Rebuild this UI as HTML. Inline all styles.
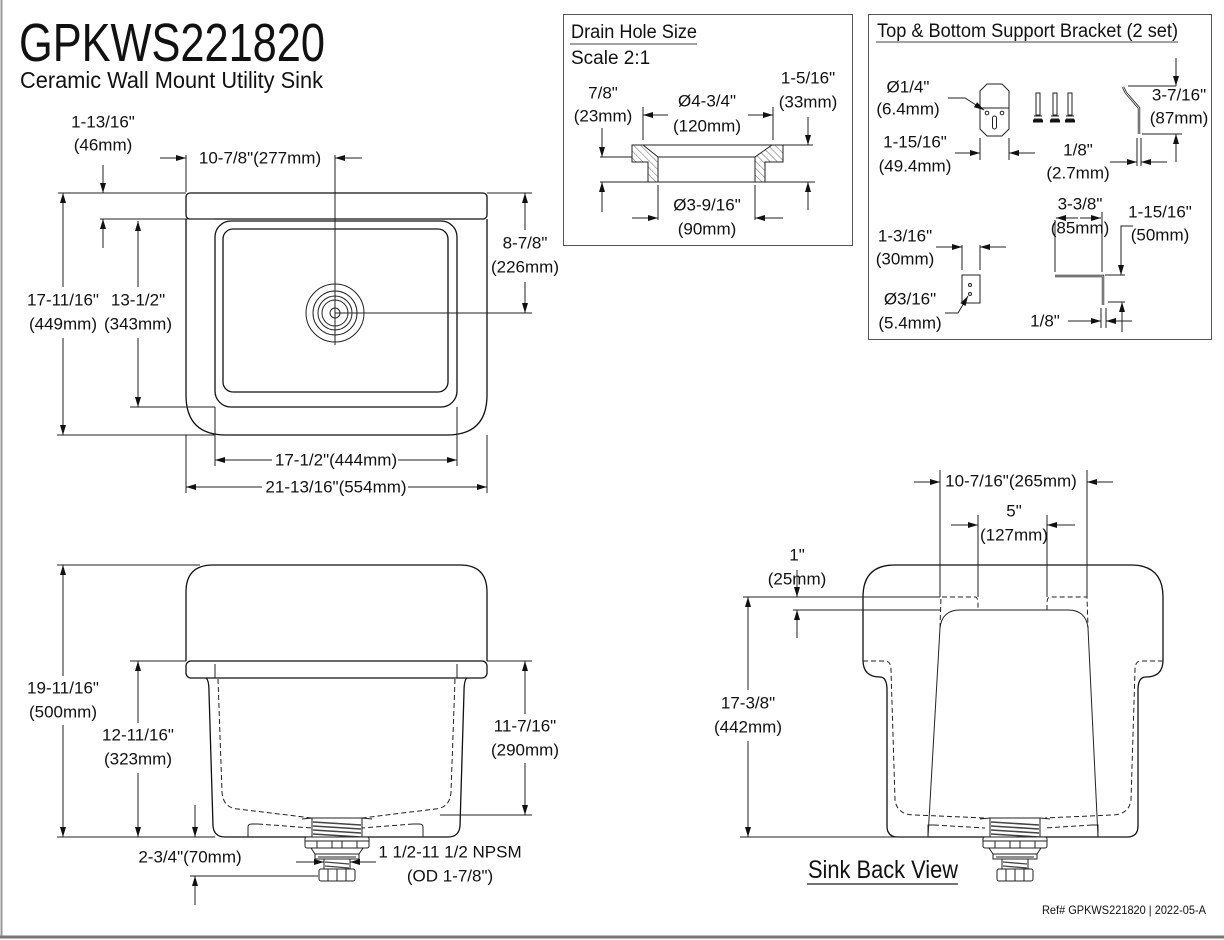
<!DOCTYPE html>
<html><head><meta charset="utf-8"><style>
html,body{margin:0;padding:0;background:#fff;}
svg{display:block;}
text{font-family:"Liberation Sans Narrow","Liberation Sans",sans-serif;fill:#111;}
.d{font-size:17px;text-anchor:middle;dominant-baseline:central;}
.l{stroke:#222;stroke-width:1;fill:none;}
.t{stroke:#111;stroke-width:1.3;fill:none;}
.ds{stroke:#222;stroke-width:1;fill:none;stroke-dasharray:5,3;}
</style></head><body>
<svg width="1224" height="940" viewBox="0 0 1224 940" xmlns="http://www.w3.org/2000/svg">
<defs>
<marker id="a" viewBox="0 0 10 6" refX="10" refY="3" markerWidth="10" markerHeight="6" markerUnits="userSpaceOnUse" orient="auto"><path d="M0,0 L10,3 L0,6 z" fill="#111"/></marker>
<pattern id="h" width="5" height="5" patternUnits="userSpaceOnUse" patternTransform="rotate(-45)"><line x1="0" y1="0" x2="0" y2="5" stroke="#333" stroke-width="0.8"/></pattern>
<g id="drain">
 <path class="l" d="M-35,-18 L-25,-19 L25,-19 L35,-18"/>
 <rect x="-25" y="-19" width="50" height="19" fill="#fff" stroke="#222"/>
 <path d="M-24,-15 L24,-12 M-24,-11 L24,-8 M-24,-7 L24,-4 M-24,-3 L24,0" stroke="#444" stroke-width="1.6"/>
 <rect x="-32" y="0" width="64" height="11" rx="2" fill="#fff" stroke="#222"/>
 <path class="l" d="M-32,4 L32,4 M-20,4 L-20,11 M20,4 L20,11 M-5,4 L-5,11 M5,4 L5,11"/>
 <path class="l" d="M-26,11 L-22,17 L22,17 L26,11 M-22,17 L-22,22 L22,22 L22,17 M-19,20 L19,20"/>
 <rect x="-13" y="22" width="26" height="10" fill="#fff" stroke="#222"/>
 <path d="M-12,25 L12,27 M-12,29 L12,31" stroke="#444" stroke-width="1.3"/>
 <rect x="-18" y="32" width="36" height="12" rx="2" fill="#fff" stroke="#222"/>
 <path class="l" d="M-9,32 L-9,44 M0,32 L0,44 M9,32 L9,44"/>
</g>
</defs>
<line x1="1.5" y1="0" x2="1.5" y2="937" stroke="#999" stroke-width="2"/>
<line x1="0" y1="937" x2="1224" y2="937" stroke="#777" stroke-width="3"/>

<text x="19" y="61" style="font-size:54px" textLength="306" lengthAdjust="spacingAndGlyphs">GPKWS221820</text>
<text x="20" y="88" style="font-size:23px" textLength="303" lengthAdjust="spacingAndGlyphs">Ceramic Wall Mount Utility Sink</text>

<!-- TOP VIEW -->
<rect class="t" x="186" y="193" width="301" height="26" rx="4"/>
<path class="t" d="M186,219 L186,395 Q186,435 226,435 L447,435 Q487,435 487,395 L487,219"/>
<rect class="t" x="215" y="221" width="242" height="186" rx="16"/>
<rect class="t" x="223" y="229" width="225" height="163" rx="10"/>
<circle class="l" cx="335" cy="313" r="29"/>
<circle class="l" cx="335" cy="313" r="22"/>
<circle class="l" cx="335" cy="313" r="17"/>
<circle class="l" cx="335" cy="313" r="13"/>
<circle class="l" cx="335" cy="313" r="5"/>
<path class="l" d="M335,155 L335,345 M335,313 L532,313"/>
<path class="l" d="M186,155 L186,192"/>
<path class="l" d="M160,158 L186,158" marker-end="url(#a)"/>
<path class="l" d="M362,158 L335,158" marker-end="url(#a)"/>
<text class="d" x="260" y="158">10-7/8"(277mm)</text>
<text class="d" x="103" y="122">1-13/16"</text>
<text class="d" x="103" y="145">(46mm)</text>
<path class="l" d="M58,193 L186,193 M100,219 L215,219"/>
<path class="l" d="M103,165 L103,193" marker-end="url(#a)"/>
<path class="l" d="M103,248 L103,219" marker-end="url(#a)"/>
<path class="l" d="M63,287 L63,193" marker-end="url(#a)"/>
<path class="l" d="M63,338 L63,435" marker-end="url(#a)"/>
<text class="d" x="63" y="300">17-11/16"</text>
<text class="d" x="63" y="324">(449mm)</text>
<path class="l" d="M57,435 L215,435 M130,407 L215,407"/>
<path class="l" d="M138,287 L138,221" marker-end="url(#a)"/>
<path class="l" d="M138,338 L138,407" marker-end="url(#a)"/>
<text class="d" x="138" y="300">13-1/2"</text>
<text class="d" x="138" y="324">(343mm)</text>
<path class="l" d="M487,193 L532,193"/>
<path class="l" d="M525,230 L525,193" marker-end="url(#a)"/>
<path class="l" d="M525,282 L525,313" marker-end="url(#a)"/>
<text class="d" x="525" y="243">8-7/8"</text>
<text class="d" x="525" y="267">(226mm)</text>
<path class="l" d="M215,407 L215,466 M457,407 L457,466 M186,435 L186,493 M487,435 L487,493"/>
<path class="l" d="M272,460 L215,460" marker-end="url(#a)"/>
<path class="l" d="M398,460 L457,460" marker-end="url(#a)"/>
<text class="d" x="336" y="460">17-1/2"(444mm)</text>
<path class="l" d="M262,487 L186,487" marker-end="url(#a)"/>
<path class="l" d="M408,487 L487,487" marker-end="url(#a)"/>
<text class="d" x="336" y="487">21-13/16"(554mm)</text>

<!-- FRONT VIEW -->
<path class="t" d="M186,661 L186,592 Q186,565 213,565 L460,565 Q487,565 487,592 L487,661"/>
<rect class="t" x="186" y="661" width="301" height="17" rx="5"/>
<path class="l" d="M215,664 L215,678 M457,664 L457,678"/>
<path class="t" d="M206,678 Q209,680 209,692 L213,826 Q214,837 225,837 L448,837 Q459,837 460,826 L464,692 Q464,680 467,678"/>
<path class="ds" d="M218,679 L222,792 Q223,808 238,809 L312,818"/>
<path class="ds" d="M455,679 L451,792 Q450,808 435,809 L362,818"/>
<path class="l" d="M248,837 L248,827 Q248,824 252,824 L258,824"/>
<path class="ds" d="M258,824 L312,828"/>
<path class="l" d="M423,837 L423,827 Q423,824 419,824 L413,824"/>
<path class="ds" d="M413,824 L362,828"/>
<use href="#drain" x="337" y="837"/>
<path class="l" d="M57,565 L200,565 M57,837 L215,837 M130,661 L186,661 M487,661 L532,661 M440,815 L532,815"/>
<path class="l" d="M63,676 L63,565" marker-end="url(#a)"/>
<path class="l" d="M63,725 L63,837" marker-end="url(#a)"/>
<text class="d" x="63" y="688">19-11/16"</text>
<text class="d" x="63" y="712">(500mm)</text>
<path class="l" d="M138,723 L138,661" marker-end="url(#a)"/>
<path class="l" d="M138,773 L138,837" marker-end="url(#a)"/>
<text class="d" x="138" y="735">12-11/16"</text>
<text class="d" x="138" y="759">(323mm)</text>
<path class="l" d="M525,714 L525,661" marker-end="url(#a)"/>
<path class="l" d="M525,763 L525,815" marker-end="url(#a)"/>
<text class="d" x="525" y="726">11-7/16"</text>
<text class="d" x="525" y="750">(290mm)</text>
<path class="l" d="M195,805 L195,837" marker-end="url(#a)"/>
<path class="l" d="M195,905 L195,876" marker-end="url(#a)"/>
<path class="l" d="M190,876 L318,876"/>
<text class="d" x="190" y="857">2-3/4"(70mm)</text>
<path class="l" d="M296,862 L324,862" marker-end="url(#a)"/>
<path class="l" d="M376,862 L350,862" marker-end="url(#a)"/>
<text class="d" x="450" y="852">1 1/2-11 1/2 NPSM</text>
<text class="d" x="450" y="876">(OD 1-7/8")</text>

<!-- BACK VIEW -->
<path class="t" d="M863,660 L863,597 Q863,565 895,565 L1131,565 Q1163,565 1163,597 L1163,660 Q1163,677 1146,677 Q1138,677 1138,690 L1138,826 Q1138,837 1127,837 L898,837 Q887,837 887,826 L887,690 Q887,677 880,677 Q863,677 863,660"/>
<path class="ds" d="M863,661 L885,661 Q891,661 891,670 L895,800 Q897,815 915,815 L985,818"/>
<path class="ds" d="M1163,661 L1141,661 Q1135,661 1135,670 L1131,800 Q1129,815 1111,815 L1045,818"/>
<path class="l" d="M928,837 L940,628 Q942,610 960,610 L1068,610 Q1086,610 1088,628 L1098,837"/>
<path class="l" d="M928,837 L928,825 L934,825 M1098,837 L1098,825 L1092,825"/>
<path class="ds" d="M934,825 L985,828 M1092,825 L1045,828"/>
<path class="ds" d="M940,628 L941,597 L975,597 Q978,597 978,604 L978,610 M1047,610 L1047,604 Q1047,597 1050,597 L1087,597 L1088,628"/>
<use href="#drain" x="1015" y="837"/>
<text x="808" y="878" style="font-size:25px" textLength="150" lengthAdjust="spacingAndGlyphs">Sink Back View</text>
<line x1="807" y1="884" x2="958" y2="884" stroke="#222" stroke-width="1.2"/>
<path class="l" d="M940,470 L940,597 M1087,470 L1087,597 M978,515 L978,597 M1047,515 L1047,597"/>
<path class="l" d="M914,482 L940,482" marker-end="url(#a)"/>
<path class="l" d="M1113,482 L1087,482" marker-end="url(#a)"/>
<text class="d" x="1011" y="481">10-7/16"(265mm)</text>
<path class="l" d="M951,525 L978,525" marker-end="url(#a)"/>
<path class="l" d="M1075,525 L1047,525" marker-end="url(#a)"/>
<text class="d" x="1014" y="511">5"</text>
<text class="d" x="1014" y="535">(127mm)</text>
<text class="d" x="797" y="555">1"</text>
<text class="d" x="797" y="579">(25mm)</text>
<path class="l" d="M743,597 L940,597 M793,610 L940,610 M740,837 L928,837"/>
<path class="l" d="M797,570 L797,597" marker-end="url(#a)"/>
<path class="l" d="M797,638 L797,610" marker-end="url(#a)"/>
<path class="l" d="M748,690 L748,597" marker-end="url(#a)"/>
<path class="l" d="M748,741 L748,837" marker-end="url(#a)"/>
<text class="d" x="748" y="703">17-3/8"</text>
<text class="d" x="748" y="727">(442mm)</text>

<!-- DRAIN HOLE BOX -->
<rect x="563.5" y="14.5" width="289" height="231" fill="none" stroke="#555" stroke-width="1"/>
<text x="571" y="38" style="font-size:19px" textLength="126" lengthAdjust="spacingAndGlyphs">Drain Hole Size</text>
<line x1="570" y1="44" x2="697" y2="44" stroke="#444"/>
<text x="571" y="64" style="font-size:19px">Scale 2:1</text>
<path d="M632,145 L643,145 L658,157 L658,182 L648,182 L648,162 L632,162 Z" fill="url(#h)" stroke="#222"/>
<path d="M783,145 L772,145 L755,157 L755,182 L765,182 L765,162 L783,162 Z" fill="url(#h)" stroke="#222"/>
<path class="l" d="M643,145 L813,145 M658,157 L755,157 M600,182 L648,182 M658,182 L755,182 M765,182 L815,182 M600,157 L632,157"/>
<text class="d" x="603" y="93">7/8"</text>
<text class="d" x="603" y="116">(23mm)</text>
<path class="l" d="M602,128 L602,157" marker-end="url(#a)"/>
<path class="l" d="M602,212 L602,182" marker-end="url(#a)"/>
<text class="d" x="707" y="101">Ø4-3/4"</text>
<text class="d" x="707" y="126">(120mm)</text>
<path class="l" d="M643,107 L643,140 M773,107 L773,140"/>
<path class="l" d="M668,115 L643,115" marker-end="url(#a)"/>
<path class="l" d="M748,115 L773,115" marker-end="url(#a)"/>
<text class="d" x="808" y="78">1-5/16"</text>
<text class="d" x="808" y="102">(33mm)</text>
<path class="l" d="M808,117 L808,145" marker-end="url(#a)"/>
<path class="l" d="M808,210 L808,182" marker-end="url(#a)"/>
<text class="d" x="707" y="205">Ø3-9/16"</text>
<text class="d" x="707" y="229">(90mm)</text>
<path class="l" d="M658,185 L658,220 M755,185 L755,220"/>
<path class="l" d="M632,218 L658,218" marker-end="url(#a)"/>
<path class="l" d="M783,218 L755,218" marker-end="url(#a)"/>

<!-- BRACKET BOX -->
<rect x="868.5" y="14.5" width="343" height="325" fill="none" stroke="#555" stroke-width="1"/>
<text x="877" y="37" style="font-size:19px" textLength="301" lengthAdjust="spacingAndGlyphs">Top &amp; Bottom Support Bracket (2 set)</text>
<line x1="876" y1="42" x2="1178" y2="42" stroke="#444"/>
<path class="l" d="M987,84 L1002,84 L1009,91 L1009,129 L1002,136 L987,136 L980,129 L980,91 Z M980,108 L1009,108"/>
<circle class="l" cx="987" cy="113" r="1.8"/>
<circle class="l" cx="1002" cy="113" r="1.8"/>
<rect class="l" x="992.5" y="116" width="4" height="13" rx="2"/>
<text class="d" x="908" y="87">Ø1/4"</text>
<text class="d" x="908" y="109">(6.4mm)</text>
<path class="l" d="M948,98 L965,98 L984,110" marker-end="url(#a)"/>
<text class="d" x="915" y="142">1-15/16"</text>
<text class="d" x="915" y="166">(49.4mm)</text>
<path class="l" d="M980,138 L980,160 M1009,138 L1009,160"/>
<path class="l" d="M955,153 L980,153" marker-end="url(#a)"/>
<path class="l" d="M1035,153 L1009,153" marker-end="url(#a)"/>
<g class="l">
<rect x="1036" y="93" width="4" height="22"/><rect x="1053" y="93" width="4" height="22"/><rect x="1068" y="93" width="4" height="22"/>
<path d="M1034,116 L1042,116 M1034,119 L1042,119 M1051,116 L1059,116 M1051,119 L1059,119 M1066,116 L1074,116 M1066,119 L1074,119"/>
</g>
<path d="M1033,121 L1043,121 M1050,121 L1060,121 M1065,121 L1075,121" stroke="#111" stroke-width="3"/>
<path d="M1123,87 L1126,93 L1139,108 L1139,134" stroke="#222" stroke-width="2.4" fill="none"/>
<path d="M1123,87 L1126,93 L1139,108 L1139,134" stroke="#fff" stroke-width="0.8" fill="none"/>
<path class="l" d="M1128,86 L1176,86 M1142,134 L1182,134"/>
<path class="l" d="M1176,58 L1176,86" marker-end="url(#a)"/>
<path class="l" d="M1176,162 L1176,134" marker-end="url(#a)"/>
<text class="d" x="1179" y="95">3-7/16"</text>
<text class="d" x="1179" y="118">(87mm)</text>
<text class="d" x="1078" y="150">1/8"</text>
<text class="d" x="1078" y="173">(2.7mm)</text>
<path class="l" d="M1137,138 L1137,166 M1141,138 L1141,166"/>
<path class="l" d="M1110,162 L1137,162" marker-end="url(#a)"/>
<path class="l" d="M1167,162 L1141,162" marker-end="url(#a)"/>
<path d="M1055,276 L1103,276 L1103,305" stroke="#222" stroke-width="2.4" fill="none"/>
<path d="M1055,276 L1103,276 L1103,305" stroke="#fff" stroke-width="0.8" fill="none"/>
<path class="l" d="M1055,220 L1055,272 M1102,212 L1102,272 M1105,275 L1125,275"/>
<path class="l" d="M1078,218 L1056,218" marker-end="url(#a)"/>
<path class="l" d="M1080,218 L1101,218" marker-end="url(#a)"/>
<text class="d" x="1080" y="204">3-3/8"</text>
<text class="d" x="1080" y="228">(85mm)</text>
<text class="d" x="1160" y="212">1-15/16"</text>
<text class="d" x="1160" y="235">(50mm)</text>
<path class="l" d="M1133,226 L1121,226 L1121,275" marker-end="url(#a)"/>
<path class="l" d="M1101,308 L1101,328 M1106,308 L1106,328 M1108,302 L1125,302"/>
<path class="l" d="M1068,321 L1101,321" marker-end="url(#a)"/>
<path class="l" d="M1132,321 L1106,321" marker-end="url(#a)"/>
<path class="l" d="M1122,332 L1122,302" marker-end="url(#a)"/>
<text class="d" x="1045" y="321">1/8"</text>
<rect class="l" x="962" y="275" width="18" height="28"/>
<circle class="l" cx="970" cy="285" r="1.5"/>
<circle class="l" cx="970" cy="294" r="1.5"/>
<text class="d" x="905" y="236">1-3/16"</text>
<text class="d" x="905" y="259">(30mm)</text>
<path class="l" d="M962,245 L962,270 M980,245 L980,270"/>
<path class="l" d="M936,247 L962,247" marker-end="url(#a)"/>
<path class="l" d="M1006,247 L980,247" marker-end="url(#a)"/>
<text class="d" x="910" y="299">Ø3/16"</text>
<text class="d" x="910" y="323">(5.4mm)</text>
<path class="l" d="M945,313 L958,313 L968,296" marker-end="url(#a)"/>

<text x="1206" y="914" style="font-size:12px;text-anchor:end;font-family:'Liberation Sans',sans-serif" textLength="164" lengthAdjust="spacingAndGlyphs">Ref# GPKWS221820 | 2022-05-A</text>
</svg>
</body></html>
